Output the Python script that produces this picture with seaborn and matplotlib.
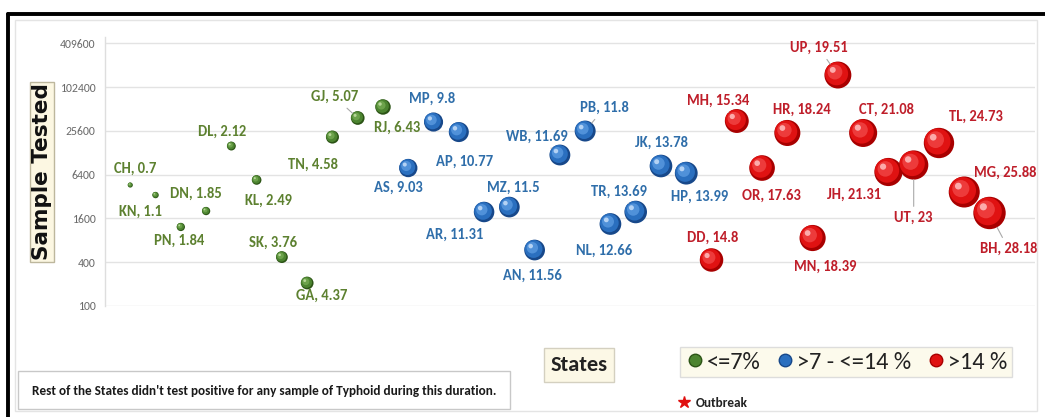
import numpy as np
import pandas as pd
import matplotlib
matplotlib.use("Agg")
import matplotlib.pyplot as plt
import seaborn as sns
from matplotlib import font_manager as fm
from matplotlib.lines import Line2D
from matplotlib.patches import Rectangle
from matplotlib.path import Path
from matplotlib.markers import MarkerStyle

# ---- data -------------------------------------------------------------
states = ["CH", "KN", "PN", "DN", "DL", "KL", "SK", "GA", "TN", "GJ", "RJ",
          "AS", "MP", "AP", "AR", "MZ", "AN", "WB", "PB", "NL", "TR", "JK",
          "HP", "DD", "MH", "OR", "HR", "MN", "UP", "CT", "JH", "UT", "TL",
          "MG", "BH"]
positivity = [0.7, 1.1, 1.84, 1.85, 2.12, 2.49, 3.76, 4.37, 4.58, 5.07, 6.43,
              9.03, 9.8, 10.77, 11.31, 11.5, 11.56, 11.69, 11.8, 12.66, 13.69,
              13.78, 13.99, 14.8, 15.34, 17.63, 18.24, 18.39, 19.51, 21.08,
              21.31, 23, 24.73, 25.88, 28.18]
samples = [4600, 3350, 1220, 2020, 15800, 5400, 470, 207, 21000, 38400, 54400,
           7880, 33800, 24600, 1960, 2290, 588, 11900, 25400, 1340, 1960,
           8400, 6700, 429, 34900, 7880, 23900, 860, 149600, 23900, 6950,
           8670, 17400, 3690, 1900]
y_ticks = [100, 400, 1600, 6400, 25600, 102400, 409600]
group_names = ["<=7%", ">7 - <=14 %", ">14 %"]

# ---- label placement (pixels: right, down) -----------------------------
label_offsets = {
    "CH": (5, -16), "KN": (-15, 17), "PN": (-2, 14), "DN": (-10, -17),
    "DL": (-9, -14), "KL": (12, 21), "SK": (-9, -14), "GA": (15, 13),
    "TN": (-20, 28), "GJ": (-23, -21), "RJ": (14, 21), "AS": (-10, 20),
    "MP": (-1, -23), "AP": (6, 30), "AR": (-29, 23), "MZ": (4, -19),
    "AN": (-2, 26), "WB": (-23, -18), "PB": (19, -23), "NL": (-6, 27),
    "TR": (-17, -20), "JK": (0, -23), "HP": (13, 24), "DD": (1, -22),
    "MH": (-19, -20), "OR": (9, 28), "HR": (14, -23), "MN": (13, 29),
    "UP": (-19, -27), "CT": (23, -23), "JH": (-34, 23), "UT": (0, 53),
    "TL": (37, -26), "MG": (41, -19), "BH": (19, 36),
}
leaders = {"GJ", "WB", "PB", "TR", "MH", "UP", "UT", "BH"}

df = pd.DataFrame({"state": states, "rate": positivity, "tested": samples})
df["rank"] = np.arange(1, len(df) + 1)
df["group"] = pd.cut(df["rate"], [0, 7, 14, 100], labels=group_names).astype(str)

# sphere shading: dark rim, body, lighter core, specular spot
shades = {
    "<=7%":        ["#2c5416", "#4c8430", "#78ad55", "#c4e0a6"],
    ">7 - <=14 %": ["#17488a", "#2a6fbf", "#5e9de2", "#c6defa"],
    ">14 %":       ["#a80000", "#e01212", "#f24a4a", "#ffc0c0"],
}
text_colors = {"<=7%": "#5d8130", ">7 - <=14 %": "#2f6eaa", ">14 %": "#bf1e2a"}

installed = {f.name for f in fm.fontManager.ttflist}
office = next((n for n in ["Carlito", "PT Sans Narrow", "Archivo Narrow",
                           "Liberation Sans Narrow"] if n in installed),
              "DejaVu Sans")
face = [office, "DejaVu Sans"]

sns.set_theme(style="white")
plt.rcParams["font.family"] = face

W, H = 1045, 417
fig = plt.figure(figsize=(W / 100, H / 100), dpi=100)
fig.patch.set_facecolor("white")
ax = fig.add_axes([105 / W, 1 - 306 / H, 930 / W, 269 / H])
ax.set_facecolor("none")


def shifted_circle(frac, shift):
    """Circle marker of radius `frac`, moved up-left, kept on the unit scale."""
    c = Path.circle(center=(-shift, shift), radius=frac)
    verts = np.vstack([[[1, 1], [-1, -1]], c.vertices])
    codes = np.concatenate([[Path.MOVETO, Path.MOVETO], c.codes])
    return MarkerStyle(Path(verts, codes))


K = 19.3  # points^2 per percentage point of positivity
rmax = df["rate"].max()
layers = [(1.0, 0.0, 0, 1.0), (0.86, 0.10, 1, 1.0), (0.55, 0.22, 2, 0.75),
          (0.22, 0.38, 3, 0.85)]
for frac, shift, idx, alpha in layers:
    pal = {g: c[idx] for g, c in shades.items()}
    sns.scatterplot(data=df, x="rank", y="tested", hue="group", palette=pal,
                    size="rate", sizes=(0, K * rmax), size_norm=(0, rmax),
                    marker=shifted_circle(frac, shift), linewidth=0,
                    alpha=alpha, legend=False, ax=ax, zorder=3 + idx)

ax.set_yscale("log", base=2)
ax.set_ylim(100, 498500)
ax.set_xlim(0, 36.8)
ax.set_yticks(y_ticks)
ax.set_yticklabels([str(v) for v in y_ticks], fontsize=8.5, color="#6b6b6b")
ax.minorticks_off()
ax.set_xticks([])
ax.tick_params(axis="y", length=0, pad=7)
ax.yaxis.grid(True, color="#e3e3e3", lw=1)
for s in ["top", "right", "bottom"]:
    ax.spines[s].set_visible(False)
ax.spines["left"].set_color("#dedede")
ax.spines["left"].set_linewidth(1)

# y axis title in a cream box
ax.set_ylabel("Sample Tested", fontsize=15.5, fontweight="bold", color="#111111",
              family=["DejaVu Sans"],
              bbox=dict(boxstyle="square,pad=0.08", fc="#fcf7e2", ec="#bdb79d", lw=1))
ax.yaxis.set_label_coords(-0.0677, 0.498)
ax.yaxis.label.set(ha="center", va="center", rotation_mode="anchor")

# x axis title in a cream box
ax.set_xlabel("States", fontsize=16, fontweight="bold", color="#222222",
              bbox=dict(boxstyle="square,pad=0.3", fc="#fcf8e6", ec="#d4d0c0", lw=1))
ax.xaxis.set_label_coords(0.5097, -0.219)
ax.xaxis.label.set(ha="center", va="center")

# data labels
for _, r in df.iterrows():
    dx, dy = label_offsets[r["state"]]
    rad_pt = 3.05 * np.sqrt(r["rate"]) * 0.72
    kw = {}
    if r["state"] in leaders:
        kw["arrowprops"] = dict(arrowstyle="-", color="#a9a9a9", lw=0.8,
                                shrinkA=1, shrinkB=rad_pt)
    ax.annotate(f"{r['state']}, {r['rate']:g}", xy=(r["rank"], r["tested"]),
                xytext=(dx * 0.72, -dy * 0.72), textcoords="offset points",
                ha="center", va="center", fontsize=10.5, fontweight="bold",
                color=text_colors[r["group"]], zorder=10, **kw)

# legend of positivity bands
handles = [Line2D([], [], ls="", marker="o", markersize=9,
                  markerfacecolor=shades[g][1], markeredgecolor=shades[g][0])
           for g in group_names]
leg = fig.legend(handles, group_names, loc="center",
                 bbox_to_anchor=(846 / W, 1 - 362 / H), ncol=3, frameon=True,
                 fancybox=False, prop=dict(size=17.5),
                 handletextpad=0.1, columnspacing=0.6, handlelength=0.8,
                 borderpad=0.2)
leg.get_frame().set_facecolor("#fcf9e8")
leg.get_frame().set_edgecolor("#d6d6d6")
for t in leg.get_texts():
    t.set_color("#222222")

# outbreak key
fig.add_artist(Line2D([684 / W], [1 - 402 / H], ls="", marker="*", markersize=9,
                      color="#e01010", transform=fig.transFigure))
fig.text(696 / W, 1 - 403 / H, "Outbreak", fontsize=9.5, fontweight="bold",
         color="#222222", va="center", ha="left")

# footnote box
fig.add_artist(Rectangle((18 / W, 1 - 409 / H), 492 / W, 38 / H,
                         transform=fig.transFigure, fc="white", ec="#c8c8c8", lw=1))
fig.text(32 / W, 1 - 391 / H,
         "Rest of the States didn't test positive for any sample of Typhoid during this duration.",
         fontsize=9.5, fontweight="bold", color="#1a1a1a",
         va="center", ha="left")

# outer frame
fig.add_artist(Rectangle((15 / W, 1 - 411 / H), 1022 / W, 391 / H,
                         transform=fig.transFigure, fc="none", ec="#e4e4e4", lw=1))
fig.add_artist(Line2D([8 / W, 8 / W], [0, 1 - 14 / H], color="black", lw=2.8,
                      transform=fig.transFigure))
fig.add_artist(Line2D([8 / W, 1], [1 - 14 / H, 1 - 14 / H], color="black", lw=2.8,
                      transform=fig.transFigure))

fig.savefig("out.png", dpi=100)
